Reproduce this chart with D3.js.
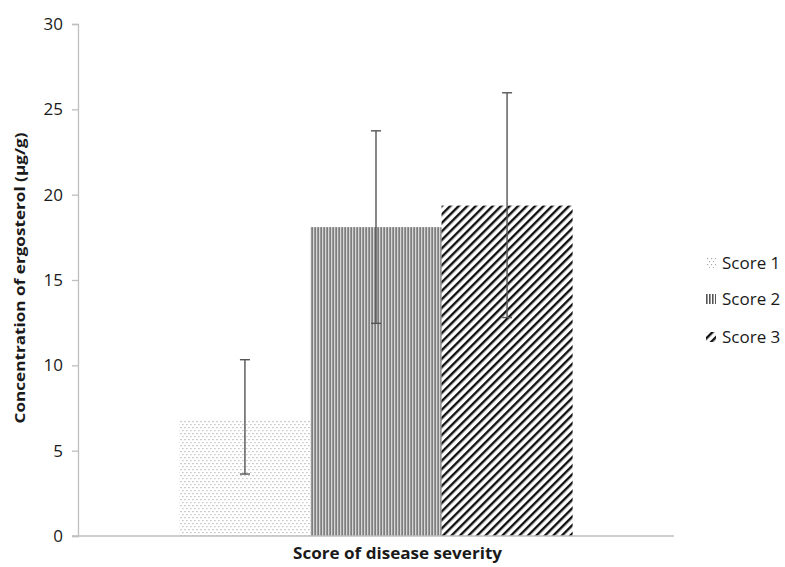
<!DOCTYPE html>
<html>
<head>
<meta charset="utf-8">
<script src="https://cdn.jsdelivr.net/npm/d3@7"></script>
<style>
  body { margin: 0; background: #fff; }
  text { font-family: "Open Sans", sans-serif; fill: #1a1a1a; }
</style>
</head>
<body>
<div id="chart"></div>
<script>
var categories = ['Score of disease severity'];
var series = ['Score 1', 'Score 2', 'Score 3'];
var values = [6.84, 18.1, 19.36];
var errLow = [3.63, 12.46, 12.8];
var errHigh = [10.33, 23.74, 25.97];
var yTicks = [0, 5, 10, 15, 20, 25, 30];

var WIDTH = 785, HEIGHT = 567;
var margin = { left: 78, right: 111, top: 24, bottom: 31 };

var svg = d3.select('#chart').append('svg')
  .attr('width', WIDTH)
  .attr('height', HEIGHT);

var defs = svg.append('defs');

// dotted fill
var p1 = defs.append('pattern').attr('id', 'pat1')
  .attr('patternUnits', 'userSpaceOnUse').attr('width', 4).attr('height', 6);
p1.append('rect').attr('x', 1).attr('y', 1).attr('width', 1.2).attr('height', 1.2).attr('fill', '#a6a6a6');
p1.append('rect').attr('x', 3).attr('y', 4).attr('width', 1.2).attr('height', 1.2).attr('fill', '#a6a6a6');

// vertical stripes
var p2 = defs.append('pattern').attr('id', 'pat2')
  .attr('patternUnits', 'userSpaceOnUse').attr('width', 3).attr('height', 3);
p2.append('rect').attr('x', 0).attr('y', 0).attr('width', 1.6).attr('height', 3).attr('fill', '#555');

// diagonal stripes
var p3 = defs.append('pattern').attr('id', 'pat3')
  .attr('patternUnits', 'userSpaceOnUse').attr('width', 6).attr('height', 6)
  .attr('patternTransform', 'rotate(45)');
p3.append('rect').attr('x', 0).attr('y', 0).attr('width', 2.4).attr('height', 6).attr('fill', '#111');

var fills = ['url(#pat1)', 'url(#pat2)', 'url(#pat3)'];

var y = d3.scaleLinear()
  .domain([0, 30])
  .range([HEIGHT - margin.bottom, margin.top]);

var x0 = d3.scaleBand()
  .domain(categories)
  .range([margin.left, WIDTH - margin.right])
  .paddingInner(0.205)
  .paddingOuter(0.205);

var x1 = d3.scaleBand()
  .domain(series)
  .range([0, x0.bandwidth()]);

// y axis
var yAxis = svg.append('g')
  .attr('transform', 'translate(' + margin.left + ',0)')
  .call(d3.axisLeft(y).tickValues(yTicks).tickSize(6).tickPadding(9));
yAxis.select('.domain').attr('stroke', '#bfbfbf').attr('stroke-width', 1.3);
yAxis.selectAll('.tick line').attr('stroke', '#bfbfbf').attr('stroke-width', 1.3);
yAxis.selectAll('.tick text')
  .attr('font-size', 17)
  .attr('font-family', '"Open Sans", sans-serif')
  .attr('fill', '#1a1a1a');

// bars
var group = svg.selectAll('.group')
  .data(categories)
  .enter().append('g')
  .attr('class', 'group')
  .attr('transform', function(d) { return 'translate(' + x0(d) + ',0)'; });

var rows = series.map(function(s, i) {
  return { name: s, value: values[i], lo: errLow[i], hi: errHigh[i], fill: fills[i] };
});

group.selectAll('rect.bar')
  .data(rows)
  .enter().append('rect')
  .attr('class', 'bar')
  .attr('x', function(d) { return x1(d.name); })
  .attr('width', x1.bandwidth())
  .attr('y', function(d) { return y(d.value); })
  .attr('height', function(d) { return y(0) - y(d.value); })
  .attr('fill', function(d) { return d.fill; });

// error bars
var err = group.selectAll('g.err')
  .data(rows)
  .enter().append('g')
  .attr('class', 'err')
  .attr('stroke', '#555')
  .attr('stroke-width', 1.4);

err.append('line')
  .attr('x1', function(d) { return x1(d.name) + x1.bandwidth() / 2; })
  .attr('x2', function(d) { return x1(d.name) + x1.bandwidth() / 2; })
  .attr('y1', function(d) { return y(d.lo); })
  .attr('y2', function(d) { return y(d.hi); });

['lo', 'hi'].forEach(function(k) {
  err.append('line')
    .attr('x1', function(d) { return x1(d.name) + x1.bandwidth() / 2 - 5; })
    .attr('x2', function(d) { return x1(d.name) + x1.bandwidth() / 2 + 5; })
    .attr('y1', function(d) { return y(d[k]); })
    .attr('y2', function(d) { return y(d[k]); });
});

// x axis line (no ticks)
svg.append('line')
  .attr('x1', margin.left - 6)
  .attr('x2', WIDTH - margin.right)
  .attr('y1', y(0))
  .attr('y2', y(0))
  .attr('stroke', '#bfbfbf')
  .attr('stroke-width', 1.3);

// axis titles
svg.append('text')
  .attr('x', 397.5)
  .attr('y', 559)
  .attr('text-anchor', 'middle')
  .attr('font-size', 16)
  .attr('font-weight', 'bold')
  .attr('textLength', 209)
  .attr('lengthAdjust', 'spacingAndGlyphs')
  .text('Score of disease severity');

svg.append('text')
  .attr('transform', 'translate(25,278) rotate(-90)')
  .attr('text-anchor', 'middle')
  .attr('font-size', 15)
  .attr('font-weight', 'bold')
  .attr('textLength', 291)
  .attr('lengthAdjust', 'spacingAndGlyphs')
  .text('Concentration of ergosterol (\u00b5g/g)');

// legend
var legend = svg.append('g').attr('class', 'legend');
var legendY = [263, 299, 337];

var item = legend.selectAll('g.item')
  .data(rows)
  .enter().append('g')
  .attr('class', 'item')
  .attr('transform', function(d, i) { return 'translate(706,' + legendY[i] + ')'; });

item.append('rect')
  .attr('x', 0)
  .attr('y', -5)
  .attr('width', 10)
  .attr('height', 10)
  .attr('fill', function(d) { return d.fill; });

item.append('text')
  .attr('x', 16)
  .attr('y', 0)
  .attr('dy', '0.35em')
  .attr('font-size', 17)
  .text(function(d) { return d.name; });
</script>
</body>
</html>
